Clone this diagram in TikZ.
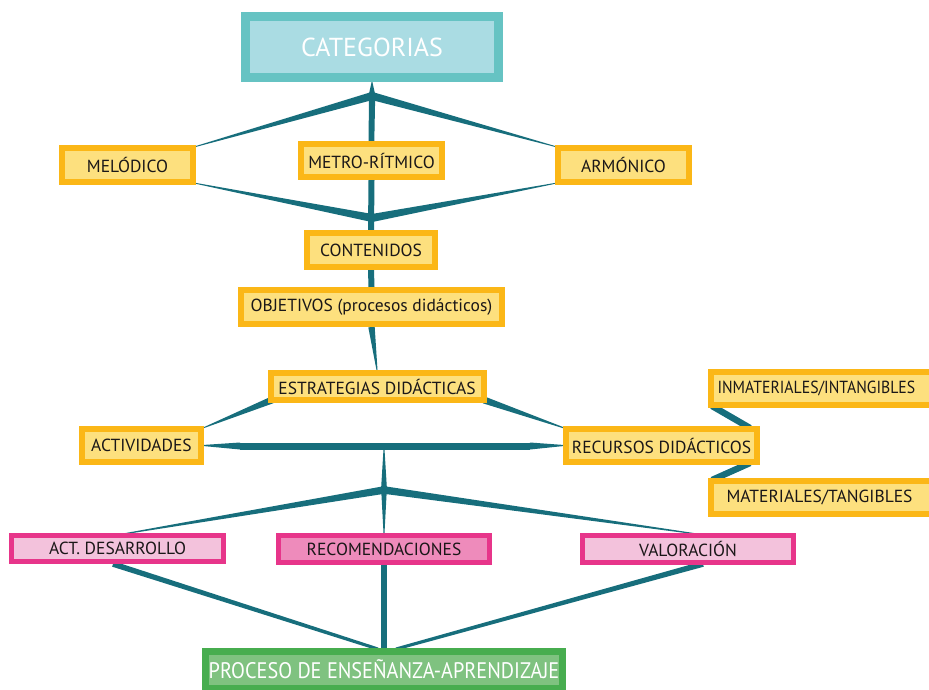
\documentclass[tikz,border=0pt]{standalone}
\usepackage{fontspec}
\setmainfont{PT Sans}
\newfontfamily\narrowf{PT Sans}[FakeStretch=0.9]
\usetikzlibrary{calc}
\definecolor{conn}{HTML}{176E7C}
\definecolor{tealB}{HTML}{66C3C3}
\definecolor{tealF}{HTML}{AADCE3}
\definecolor{orB}{HTML}{FBB717}
\definecolor{orF}{HTML}{FDE07E}
\definecolor{pkB}{HTML}{E7358A}
\definecolor{pkF}{HTML}{F3C2DC}
\definecolor{pkD}{HTML}{EE8BBB}
\definecolor{grB}{HTML}{47AD4F}
\definecolor{grF}{HTML}{7FC280}
\definecolor{txt}{HTML}{1A1718}
\pgfdeclarelayer{bg}\pgfsetlayers{bg,main}
\newcommand\taper[4]{\fill[conn] ($(#1)!#3!90:(#2)$) -- ($(#2)!#4!-90:(#1)$) -- ($(#2)!#4!90:(#1)$) -- ($(#1)!#3!-90:(#2)$) -- cycle;}
\tikzset{
  box/.style={rectangle, inner sep=0pt, text=txt, font=\fontsize{17.5}{20}\selectfont},
  obox/.style={box, draw=orB, fill=orF, line width=6pt},
  pbox/.style={box, draw=pkB, fill=pkF, line width=5pt},
}
\begin{document}
\begin{tikzpicture}[x=1pt,y=-1pt]
\useasboundingbox (0,0) rectangle (929,690);
\clip (0,0) rectangle (929,690);
\node[box, draw=tealB, fill=tealF, line width=9pt, minimum width=253pt, minimum height=61pt, text=white, font=\fontsize{26}{30}\selectfont] (cat) at (372,47) {CATEGORIAS};
\node[obox, minimum width=131pt, minimum height=34pt] (mel) at (127.5,165) {MELÓDICO};
\node[obox, minimum width=141pt, minimum height=33pt] (met) at (371.5,160.5) {METRO-RÍTMICO};
\node[obox, minimum width=131pt, minimum height=34pt] (arm) at (623.5,165) {ARMÓNICO};
\node[obox, minimum width=128pt, minimum height=34pt] (con) at (371,250) {CONTENIDOS};
\node[obox, minimum width=261pt, minimum height=34pt] (obj) at (371.5,307) {OBJETIVOS (procesos didácticos)};
\node[obox, minimum width=213pt, minimum height=27pt] (est) at (377,386.5) {ESTRATEGIAS DIDÁCTICAS};
\node[obox, minimum width=119pt, minimum height=33pt] (act) at (141.5,445.5) {ACTIVIDADES};
\node[obox, minimum width=191pt, minimum height=33pt] (rec) at (661.5,445.5) {RECURSOS DIDÁCTICOS};
\node[obox, minimum width=237pt, minimum height=33pt] (inm) at (829.5,388.5) {\makebox[230pt][l]{\hspace{3pt}\narrowf INMATERIALES/INTANGIBLES}};
\node[obox, minimum width=237pt, minimum height=33pt] (mat) at (829.5,497.5) {\makebox[230pt][l]{\hspace{12pt}MATERIALES/TANGIBLES}};
\node[pbox, minimum width=212pt, minimum height=26pt] (ades) at (117.5,548.5) {ACT. DESARROLLO};
\node[pbox, fill=pkD, minimum width=211pt, minimum height=27pt] (reco) at (384,549) {RECOMENDACIONES};
\node[pbox, minimum width=211pt, minimum height=27pt] (val) at (688,549) {VALORACIÓN};
\node[box, draw=grB, fill=grF, line width=7pt, minimum width=357pt, minimum height=37pt, text=white, font=\narrowf\fontsize{22.5}{26}\selectfont] (pro) at (384,670) {\raisebox{2pt}{PROCESO DE ENSEÑANZA-APRENDIZAJE}};
\coordinate (j1) at (372,96);
\coordinate (j2) at (372,218);
\coordinate (hm) at (384,446);
\coordinate (hl) at (240,446);
\coordinate (hr) at (530,446);
\coordinate (j3) at (384,490);
\coordinate (melT) at (194,147);
\coordinate (armT) at (557,147);
\coordinate (melB) at (194,183);
\coordinate (armB) at (557,183);
\coordinate (estL) at (272,400);
\coordinate (actR) at (203,428);
\coordinate (estR) at (484,400);
\coordinate (recL) at (567,429);
\coordinate (inmB) at (712,406);
\coordinate (recT) at (750,428);
\coordinate (recB) at (750,463);
\coordinate (matT) at (712,480);
\coordinate (adesT) at (123,534);
\coordinate (valT) at (697,534);
\coordinate (adesB) at (113,564);
\coordinate (valB) at (703,564);
\coordinate (proL) at (378,649);
\coordinate (proR) at (396,649);
\begin{pgfonlayer}{bg}
\taper{cat.south}{j1}{0.4pt}{3.5pt}
\taper{j1}{melT}{4pt}{0.4pt}
\taper{j1}{armT}{4pt}{0.4pt}
\taper{j1}{met.north}{3.2pt}{2.8pt}
\taper{melB}{j2}{0.4pt}{4pt}
\taper{armB}{j2}{0.4pt}{4pt}
\taper{met.south}{con.north}{3pt}{3pt}
\taper{con.south}{obj.north}{3pt}{3pt}
\taper{obj.south}{est.north}{3.2pt}{0.5pt}
\taper{estL}{actR}{3.5pt}{0.4pt}
\taper{estR}{recL}{3.5pt}{0.4pt}
\taper{act.east}{hl}{0.6pt}{3.5pt}
\taper{hl}{hr}{3.5pt}{3.5pt}
\taper{hr}{rec.west}{3.5pt}{0.6pt}
\taper{hm}{j3}{0.3pt}{3pt}
\taper{j3}{adesT}{3.8pt}{0.5pt}
\taper{j3}{valT}{3.8pt}{0.5pt}
\taper{j3}{reco.north}{2.8pt}{0.5pt}
\taper{adesB}{proL}{2.8pt}{1.5pt}
\taper{reco.south}{pro.north}{3pt}{3pt}
\taper{valB}{proR}{2.8pt}{1.5pt}
\taper{inmB}{recT}{3.2pt}{3.2pt}
\taper{recB}{matT}{3.2pt}{3.2pt}
\end{pgfonlayer}
\end{tikzpicture}
\end{document}
